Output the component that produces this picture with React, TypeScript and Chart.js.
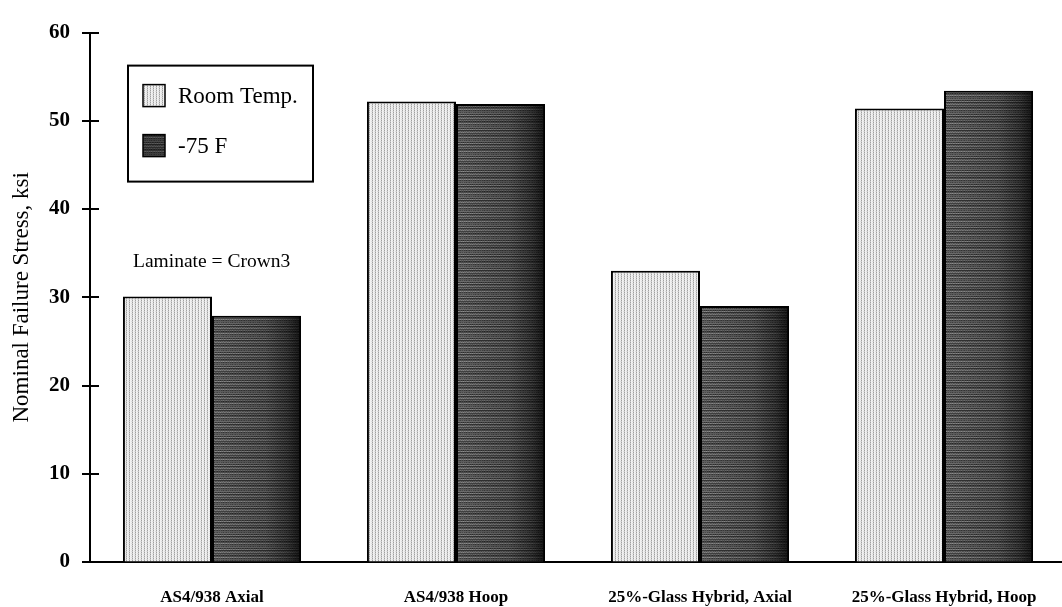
import React, { useEffect, useRef } from "react";
import { Chart, registerables } from "chart.js";

Chart.register(...registerables);

const categories = [
  "AS4/938 Axial",
  "AS4/938 Hoop",
  "25%-Glass Hybrid, Axial",
  "25%-Glass Hybrid, Hoop",
];
const seriesLabels = ["Room Temp.", "-75 F"];
const roomTemp = [30.1, 52.2, 33.0, 51.4];
const minus75F = [27.9, 51.9, 29.0, 53.4];
const yMin = 0;
const yMax = 60;
const yStep = 10;
const yTitle = "Nominal Failure Stress, ksi";
const noteText = "Laminate = Crown3";
const noteValue = 34;

const SERIF = "'Liberation Serif', 'Times New Roman', serif";

function makePattern(
  ctx: CanvasRenderingContext2D,
  w: number,
  h: number,
  draw: (g: CanvasRenderingContext2D) => void
) {
  const c = document.createElement("canvas");
  c.width = w;
  c.height = h;
  const g = c.getContext("2d") as CanvasRenderingContext2D;
  draw(g);
  return ctx.createPattern(c, "repeat") as CanvasPattern;
}

const darkRows = [82, 110, 60, 128, 52, 92, 118, 66, 100, 58, 78, 126, 70, 96];
const darkCols = [0, 16, -12, 8, -18, 12, -6, 20, -10];

export default function App() {
  const ref = useRef<HTMLCanvasElement | null>(null);

  useEffect(() => {
    const canvas = ref.current;
    if (!canvas) return;
    const ctx = canvas.getContext("2d") as CanvasRenderingContext2D;

    const lightPattern = makePattern(ctx, 3, 2, (g) => {
      g.fillStyle = "#f1f1f1";
      g.fillRect(0, 0, 3, 2);
      g.fillStyle = "#a0a0a0";
      g.fillRect(0, 0, 1, 1);
      g.fillStyle = "#cacaca";
      g.fillRect(0, 1, 1, 1);
      g.fillStyle = "#dedede";
      g.fillRect(2, 1, 1, 1);
    });

    const darkPattern = makePattern(ctx, darkCols.length, darkRows.length, (g) => {
      for (let r = 0; r < darkRows.length; r++) {
        for (let c = 0; c < darkCols.length; c++) {
          const v = Math.max(20, Math.min(200, darkRows[r] + darkCols[c] * ((r % 3) - 1)));
          g.fillStyle = `rgb(${v},${v},${v})`;
          g.fillRect(c, r, 1, 1);
        }
      }
    });

    const decor = {
      id: "decor",
      afterDatasetsDraw(chart: any) {
        const c = chart.ctx as CanvasRenderingContext2D;
        const meta = chart.getDatasetMeta(1);
        c.save();
        meta.data.forEach((el: any) => {
          const { x, y, base, width } = el.getProps(["x", "y", "base", "width"], true);
          const l = x - width / 2;
          const grad = c.createLinearGradient(l, 0, l + width, 0);
          grad.addColorStop(0, "rgba(0,0,0,0)");
          grad.addColorStop(0.6, "rgba(0,0,0,0.2)");
          grad.addColorStop(0.85, "rgba(0,0,0,0.5)");
          grad.addColorStop(1, "rgba(0,0,0,0.8)");
          c.fillStyle = grad;
          c.fillRect(l + 1, y + 1, width - 2, base - y - 1);
        });
        c.restore();
      },
      afterDraw(chart: any) {
        const c = chart.ctx as CanvasRenderingContext2D;
        const area = chart.chartArea;
        const ys = chart.scales.y;
        c.save();
        c.strokeStyle = "#000";
        c.lineWidth = 2;
        ys.ticks.forEach((t: any) => {
          const py = Math.round(ys.getPixelForValue(t.value));
          c.beginPath();
          c.moveTo(area.left - 8, py);
          c.lineTo(area.left + 9, py);
          c.stroke();
        });
        c.beginPath();
        c.moveTo(area.left - 6, area.bottom);
        c.lineTo(area.left, area.bottom);
        c.stroke();

        // legend box
        const bx = area.left + 38;
        const by = area.top + 33;
        const bw = 185;
        const bh = 116;
        c.fillStyle = "#fff";
        c.fillRect(bx, by, bw, bh);
        c.lineWidth = 2;
        c.strokeRect(bx, by, bw, bh);
        const fills = [lightPattern, darkPattern];
        c.font = `23px ${SERIF}`;
        c.textBaseline = "middle";
        c.textAlign = "left";
        chart.data.datasets.forEach((ds: any, i: number) => {
          const sx = bx + 15;
          const sy = by + 19 + i * 50;
          c.fillStyle = fills[i];
          c.fillRect(sx, sy, 22, 22);
          if (i === 1) {
            c.fillStyle = "rgba(0,0,0,0.35)";
            c.fillRect(sx, sy, 22, 22);
          }
          c.lineWidth = 1.5;
          c.strokeStyle = "#000";
          c.strokeRect(sx, sy, 22, 22);
          c.fillStyle = "#000";
          c.fillText(ds.label, sx + 35, sy + 12);
        });

        c.font = `19.5px ${SERIF}`;
        c.fillStyle = "#000";
        c.textAlign = "left";
        c.textBaseline = "middle";
        c.fillText(noteText, area.left + 43, ys.getPixelForValue(noteValue));
        c.restore();
      },
    };

    const chart = new Chart(ctx, {
      type: "bar",
      data: {
        labels: categories,
        datasets: [
          {
            label: seriesLabels[0],
            data: roomTemp,
            backgroundColor: lightPattern,
            borderColor: "#000",
            borderWidth: 2,
            borderSkipped: "bottom",
          },
          {
            label: seriesLabels[1],
            data: minus75F,
            backgroundColor: darkPattern,
            borderColor: "#000",
            borderWidth: 2,
            borderSkipped: "bottom",
          },
        ],
      },
      options: {
        responsive: false,
        animation: false,
        devicePixelRatio: 1,
        layout: { padding: { top: 16, right: 4, left: 0, bottom: 0 } },
        datasets: {
          bar: { categoryPercentage: 0.73, barPercentage: 1.0 },
        },
        plugins: {
          legend: { display: false },
          tooltip: { enabled: false },
        },
        scales: {
          x: {
            offset: true,
            grid: { display: false, drawTicks: false },
            border: { display: true, color: "#000", width: 2 },
            ticks: {
              color: "#000",
              padding: 25,
              font: { family: SERIF, size: 17, weight: "bold" },
              maxRotation: 0,
              autoSkip: false,
            },
            afterFit: (s: any) => {
              s.height = 45;
            },
          },
          y: {
            min: yMin,
            max: yMax,
            grid: { drawOnChartArea: false, drawTicks: false },
            border: { display: true, color: "#000", width: 2 },
            ticks: {
              stepSize: yStep,
              color: "#000",
              padding: 20,
              font: { family: SERIF, size: 21, weight: "bold" },
            },
            title: {
              display: true,
              text: yTitle,
              color: "#000",
              font: { family: SERIF, size: 23, weight: "normal" },
              padding: { top: 8, bottom: 0 },
            },
            afterFit: (s: any) => {
              s.width = 90;
            },
          },
        },
      },
      plugins: [decor],
    } as any);

    return () => chart.destroy();
  }, []);

  return (
    <div
      style={{
        position: "absolute",
        left: 0,
        top: 0,
        width: 1062,
        height: 607,
        overflow: "hidden",
        background: "#fff",
      }}
    >
      <canvas ref={ref} width={1070} height={607} style={{ display: "block" }} />
    </div>
  );
}
